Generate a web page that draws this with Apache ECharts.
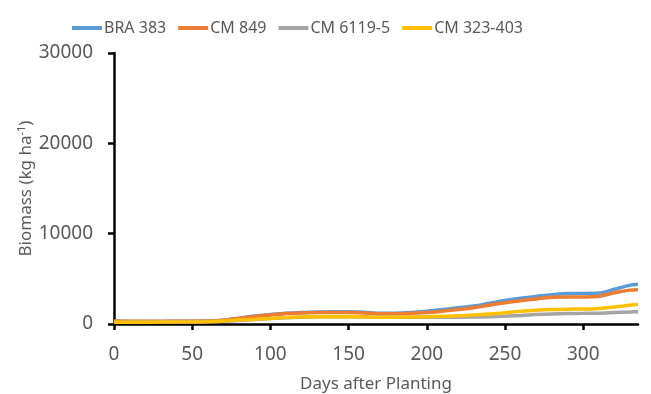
<!DOCTYPE html>
<html><head><meta charset="utf-8">
<script src="https://cdn.jsdelivr.net/npm/echarts@6/dist/echarts.min.js"></script>
<style>html,body{margin:0;padding:0;background:#fff}#c{width:651px;height:394px}</style>
</head><body><div id="c"></div>
<script>
const seriesNames = ['BRA 383', 'CM 849', 'CM 6119-5', 'CM 323-403'];
const colors = ['#5B9BD5', '#ED7D31', '#A5A5A5', '#FFC000'];
const days = [0,10,20,30,40,50,60,70,80,90,100,110,120,130,140,150,160,170,180,190,200,210,220,230,240,250,260,270,280,290,300,310,320,330,335];
const bra383 = [300,290,280,290,300,300,310,420,650,880,1050,1200,1280,1330,1360,1350,1300,1200,1200,1280,1420,1600,1800,2000,2300,2600,2850,3050,3250,3380,3380,3420,3850,4300,4400];
const cm849  = [320,310,300,300,310,310,320,420,620,840,1000,1150,1220,1260,1280,1270,1220,1130,1130,1180,1280,1420,1600,1800,2080,2350,2580,2780,2950,3000,3000,3060,3450,3750,3800];
const cm6119 = [200,210,220,230,240,250,270,300,400,500,600,700,760,790,800,800,790,770,760,755,750,750,750,770,800,870,950,1050,1120,1160,1180,1200,1270,1330,1360];
const cm323  = [180,190,200,210,220,230,260,330,430,530,620,720,780,800,805,800,780,760,760,780,800,850,900,1000,1100,1250,1400,1520,1600,1640,1660,1720,1880,2080,2150];
const xTicks = [0,50,100,150,200,250,300];
const yTicks = [0,10000,20000,30000];
const allValues = [bra383, cm849, cm6119, cm323];

const font = 'Noto Sans';
const grey = '#595959';
const chart = echarts.init(document.getElementById('c'));
chart.setOption({
  animation: false,
  textStyle: {fontFamily: font},
  legend: {
    left: 67, top: 15, itemWidth: 30, itemHeight: 4, itemGap: 12, icon: 'rect',
    textStyle: {fontFamily: font, fontSize: 16, color: grey, padding: [0,0,0,-3]},
    data: seriesNames
  },
  grid: {left: 114, right: 13, top: 53, bottom: 70, containLabel: false, outerBoundsMode: 'none'},
  xAxis: {
    type: 'value', min: 0, max: 335, interval: 50,
    name: 'Days after Planting', nameLocation: 'middle', nameGap: 52, nameMoveOverlap: false,
    nameTextStyle: {fontFamily: font, fontSize: 17, color: grey},
    axisLine: {lineStyle: {color: '#000', width: 2.5}},
    axisTick: {show: true, length: 6, lineStyle: {color: '#000', width: 2.5}, customValues: xTicks},
    axisLabel: {fontFamily: font, fontSize: 19, color: grey, margin: 21, customValues: xTicks},
    splitLine: {show: false}
  },
  yAxis: {
    type: 'value', min: 0, max: 30000, interval: 10000,
    name: '{a|Biomass (kg ha}{s|-1}{a|)}', nameLocation: 'middle', nameGap: 78, nameMoveOverlap: false,
    nameTextStyle: {rich: {
      a: {fontFamily: font, fontSize: 17, color: grey},
      s: {fontFamily: font, fontSize: 11, color: grey, verticalAlign: 'top', padding: [0,0,9,0]}
    }},
    axisLine: {show: true, lineStyle: {color: '#000', width: 2.5}},
    axisTick: {show: true, length: 6, lineStyle: {color: '#000', width: 2.5}},
    axisLabel: {fontFamily: font, fontSize: 19, color: grey, margin: 21, formatter: v => String(v), customValues: yTicks},
    splitLine: {show: false}
  },
  series: seriesNames.map((n, i) => ({
    name: n, type: 'line', smooth: 0.3, showSymbol: false, symbol: 'none',
    data: days.map((d, j) => [d, allValues[i][j]]),
    lineStyle: {color: colors[i], width: 3.5},
    itemStyle: {color: colors[i]}
  }))
});
</script></body></html>
